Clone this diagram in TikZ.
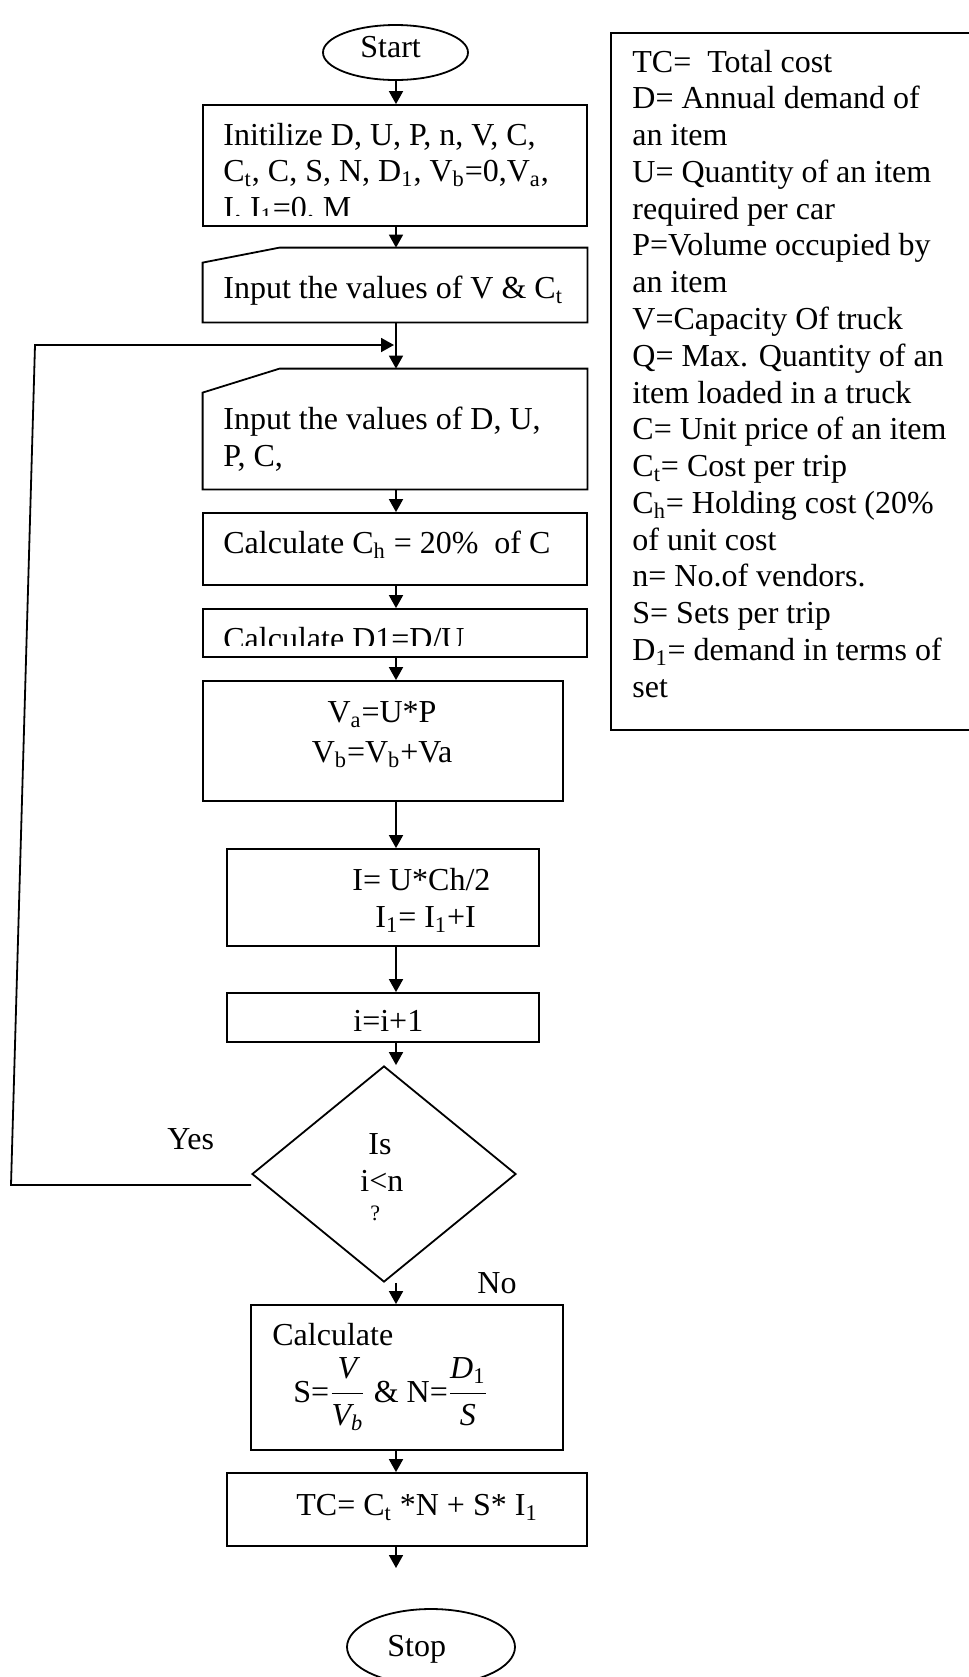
\documentclass[tikz,border=0pt]{standalone}
\usepackage{fontspec}
\usepackage{amsmath}
\setmainfont{Liberation Serif}
\usetikzlibrary{shapes.geometric,arrows.meta,fit}

\tikzset{
  box/.style={draw, rectangle, inner sep=0pt, line width=0.9pt},
  area/.style={rectangle, inner sep=0pt},
  term/.style={draw, ellipse, inner sep=0pt, line width=0.9pt},
  txt/.style={anchor=base west, inner sep=0pt},
  flow/.style={-{Triangle[length=6.5pt,width=7pt]}, line width=0.9pt},
}

\begin{document}
\begin{tikzpicture}[x=0.5pt,y=-0.5pt,font=\fontsize{16}{18.4}\selectfont]
  \useasboundingbox (0,0) rectangle (969,1677);

  % Spine and loop points
  \coordinate (ax) at (396,0);
  \coordinate (loopbot) at (11,1185);
  \coordinate (looptop) at (35,345);
  \coordinate (loopin) at (394,345);
  \coordinate (tcend) at (396,1568);

  % Terminals
  \node[term, minimum width=72.5pt, minimum height=27.5pt] (start) at (395.5,52.5) {};
  \node[txt] (starttxt) at (360,57) {Start};
  \node[term, minimum width=84pt, minimum height=38pt] (stop) at (431,1647) {};
  \node[txt] (stoptxt) at (387,1656) {Stop};

  % Process boxes
  \node[box, fit={(203,105) (587,226)}] (init) {};
  \node[area, fit={(203,248) (587,322)}] (inp1) {};
  \node[area, fit={(203,369) (587,489)}] (inp2) {};
  \node[box, fit={(203,513) (587,585)}] (calch) {};
  \node[box, fit={(203,609) (587,657)}] (dval) {};
  \node[box, fit={(203,681) (563,801)}] (vol) {};
  \node[box, fit={(227,849) (539,946)}] (hold) {};
  \node[box, fit={(227,993) (539,1042)}] (incr) {};
  \node[draw, diamond, inner sep=0pt, minimum width=132pt, minimum height=108pt,
        line width=0.9pt] (test) at (384,1174) {};
  \node[box, fit={(251,1305) (563,1450)}] (calc) {};
  \node[box, fit={(227,1473) (587,1546)}] (total) {};

  % Manual input outlines
  \draw[line width=0.9pt] (inp1.south west) -- (inp1.south east) -- (inp1.north east)
    -- ([xshift=38.5pt]inp1.north west) -- ([yshift=-7.5pt]inp1.north west) -- cycle;
  \draw[line width=0.9pt] (inp2.south west) -- (inp2.south east) -- (inp2.north east)
    -- ([xshift=38.5pt]inp2.north west) -- ([yshift=-12pt]inp2.north west) -- cycle;

  % Legend
  \node[draw, rectangle, inner sep=0pt, line width=1.1pt,
        fit={(611,33) (990,730)}] (legend) {};
  \foreach \ln [count=\k from 0] in {{TC=~ Total cost}, {D= Annual demand of}, {an item},
      {U= Quantity of an item}, {required per car}, {P=Volume occupied by}, {an item},
      {V=Capacity Of truck}, {Q= Max. Quantity of an}, {item loaded in a truck},
      {C= Unit price of an item}, {C\textsubscript{t}= Cost per trip},
      {C\textsubscript{h}= Holding cost (20\%}, {of unit cost}, {n= No.of vendors.},
      {S= Sets per trip}, {D\textsubscript{1}= demand in terms of}, {set}}
    \node[txt] (leg\k) at (632,{72+36.78*\k}) {\ln};

  % Box texts
  \begin{scope}
    \clip (203,105) rectangle (587,215);
    \foreach \ln [count=\k from 0] in {{Initilize D, U, P, n, V, C,},
        {C\textsubscript{t}, C, S, N, D\textsubscript{1}, V\textsubscript{b}=0,V\textsubscript{a},},
        {I, I\textsubscript{1}=0, M}}
      \node[txt] (init\k) at (223,{145+36.7*\k}) {\ln};
  \end{scope}
  \node[txt] (inp1txt) at (223,298) {Input the values of V \& C\textsubscript{t}};
  \node[txt] (inp2a) at (223,429) {Input the values of D, U,};
  \node[txt] (inp2b) at (223,466) {P, C,};
  \node[txt] (calchtxt) at (223,553) {Calculate C\textsubscript{h} = 20\%~ of C};
  \begin{scope}
    \clip (203,609) rectangle (587,645);
    \node[txt] (dvaltxt) at (223,649) {Calculate D1=D/U};
  \end{scope}
  \node[anchor=base, inner sep=0pt] (vola) at (382,722) {V\textsubscript{a}=U*P};
  \node[anchor=base, inner sep=0pt] (volb) at (382,762) {V\textsubscript{b}=V\textsubscript{b}+Va};
  \node[txt] (holda) at (352,890) {I= U*Ch/2};
  \node[txt] (holdb) at (375,927) {I\textsubscript{1}= I\textsubscript{1}+I};
  \node[txt] (incrtxt) at (353,1031) {i=i+1};
  \node[txt] (testa) at (368,1154) {Is};
  \node[txt] (testb) at (360,1191) {i<n};
  \node[txt, font=\fontsize{11}{13}\selectfont] (testc) at (370,1220) {?};
  \node[txt] (calca) at (272,1345) {Calculate};
  \node[txt] (calcb) at (293,1402)
    {S=$\dfrac{\textit{V}}{\textit{V}_{\textit{b}}}$~\& N=$\dfrac{\textit{D}_{\textrm{1}}}{\textit{S}}$};
  \node[txt] (totaltxt) at (296,1515) {TC= C\textsubscript{t} *N + S* I\textsubscript{1}};

  % Branch labels
  \node[txt] (yes) at (167,1149) {Yes};
  \node[txt] (no) at (477,1293) {No};

  % Connectors
  \draw[flow] (start.south -| ax) -- (init.north -| ax);
  \draw[flow] (init.south -| ax) -- (inp1.north -| ax);
  \draw[flow] (inp1.south -| ax) -- (inp2.north -| ax);
  \draw[flow] (inp2.south -| ax) -- (calch.north -| ax);
  \draw[flow] (calch.south -| ax) -- (dval.north -| ax);
  \draw[flow] (dval.south -| ax) -- (vol.north -| ax);
  \draw[flow] (vol.south -| ax) -- (hold.north -| ax);
  \draw[flow] (hold.south -| ax) -- (incr.north -| ax);
  \draw[flow] (incr.south -| ax) -- (test.north -| ax);
  \draw[flow] (test.south -| ax) -- (calc.north -| ax);
  \draw[flow] (calc.south -| ax) -- (total.north -| ax);
  \draw[flow] (total.south -| ax) -- (tcend);

  % Yes loop back
  \draw[flow] (test.west |- loopbot) -- (loopbot) -- (looptop) -- (loopin);
\end{tikzpicture}
\end{document}
